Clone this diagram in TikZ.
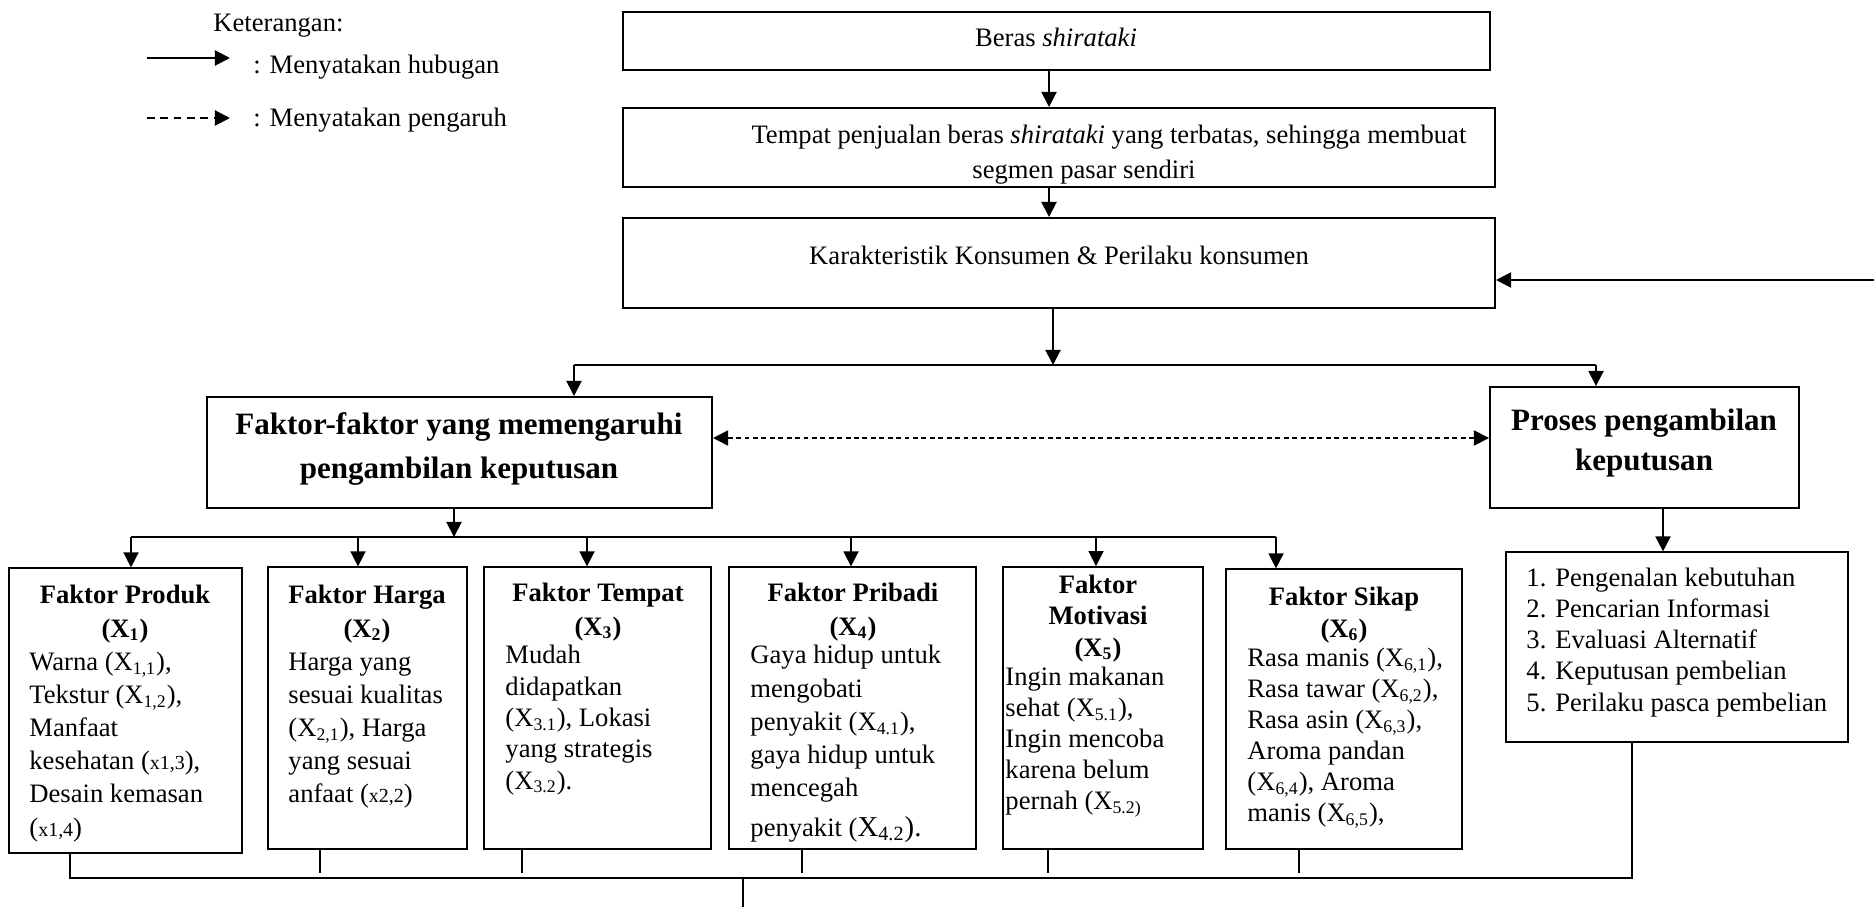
\documentclass[tikz,border=0pt]{standalone}
\usepackage{fontspec}
\setmainfont{Liberation Serif}
\usetikzlibrary{arrows.meta,fit}
\begin{document}
\begin{tikzpicture}[x=0.451pt,y=-0.451pt,
  thickbox/.style={draw, line width=0.9pt, inner sep=0pt},
  thinbox/.style={draw, line width=0.55pt, inner sep=0pt},
  arr/.style={-{Triangle[length=6.8pt,width=6.8pt]}, line width=0.9pt},
  arrthin/.style={-{Triangle[length=6.8pt,width=6.8pt]}, line width=0.7pt},
  ln/.style={line width=0.55pt},
  txt/.style={inner sep=0pt, font=\fontsize{12}{14.5}\selectfont, align=left},
  ttl/.style={inner sep=0pt, font=\bfseries\fontsize{12}{14.9}\selectfont, align=center},
  big/.style={inner sep=0pt, align=center},
]
\useasboundingbox (0,0) rectangle (1874,907);

% legend
\node[txt, anchor=base west] (ket) at (213,32) {Keterangan:};
\coordinate (l1a) at (147,58); \coordinate (l1b) at (230,58);
\draw[arr] (l1a) -- (l1b);
\node[txt, anchor=base west] (l1t) at (253,74) {: Menyatakan hubugan};
\coordinate (l2a) at (147,118); \coordinate (l2b) at (230,118);
\draw[arr, dash pattern=on 3.5pt off 2.5pt] (l2a) -- (l2b);
\node[txt, anchor=base west] (l2t) at (253,127) {: Menyatakan pengaruh};

% top chain
\node[thickbox, fit={(623,12) (1490,70)}] (b1) {};
\node[txt, anchor=base] (b1t) at (1056,47) {Beras \textit{shirataki}};
\node[thickbox, fit={(623,108) (1495,187)}] (b2) {};
\node[txt, align=center, anchor=base, font=\fontsize{12}{15.8}\selectfont] (b2t) at (1084,179)
  {\hspace*{22.5pt}Tempat penjualan beras \textit{shirataki} yang terbatas, sehingga membuat\\segmen pasar sendiri};
\node[thickbox, fit={(623,218) (1495,308)}] (b3) {};
\node[txt, anchor=base] (b3t) at (1059,264) {Karakteristik Konsumen \& Perilaku konsumen};

\coordinate (c1) at (1049,0);
\draw[arr] (c1 |- b1.south) -- (c1 |- b2.north);
\draw[arr] (c1 |- b2.south) -- (c1 |- b3.north);
\coordinate (fb) at (1874,280);
\draw[arr] (fb) -- (fb -| b3.east);

% decision level
\node[thickbox, fit={(207,397) (712,508)}] (ff) {};
\node[big, font=\bfseries\fontsize{14}{19.4}\selectfont, anchor=base] (fft) at (459,478)
  {Faktor-faktor yang memengaruhi\\pengambilan keputusan};
\node[thickbox, fit={(1490,387) (1799,508)}] (pp) {};
\node[big, font=\bfseries\fontsize{14}{18}\selectfont, anchor=base] (ppt) at (1644,470)
  {Proses pengambilan\\keputusan};

\coordinate (c2) at (1053,365);
\draw[arr] (c2 |- b3.south) -- (c2);
\coordinate (s1) at (574,365); \coordinate (s2) at (1596,365);
\draw[line width=0.7pt] (s1) -- (s2);
\draw[arr] (s1) -- (s1 |- ff.north);
\draw[arr] (s2) -- (s2 |- pp.north);
\coordinate (d) at (0,438);
\draw[{Triangle[length=6.8pt,width=6.8pt]}-{Triangle[length=6.8pt,width=6.8pt]}, line width=0.75pt, dash pattern=on 2.2pt off 1.6pt]
  (d -| ff.east) -- (d -| pp.west);

% factor boxes
\node[thinbox, fit={(9,568) (242,853)}] (bp) {};
\node[thinbox, fit={(268,567) (467,849)}] (bh) {};
\node[thinbox, fit={(484,567) (711,849)}] (bt) {};
\node[thinbox, fit={(729,567) (976,849)}] (bpr) {};
\node[draw, line width=0.8pt, inner sep=0pt, fit={(1003,567) (1203,849)}] (bm) {};
\node[thinbox, fit={(1226,569) (1462,849)}] (bs) {};
\node[thinbox, fit={(1506,552) (1848,742)}] (lst) {};

\coordinate (c3) at (454,537);
\draw[arr] (c3 |- ff.south) -- (c3);
\coordinate (h0) at (131,537); \coordinate (h9) at (1276,537);
\draw[line width=0.6pt] (h0) -- (h9);
\draw[arrthin] (h0) -- (h0 |- bp.north);
\coordinate (a2) at (358,537); \draw[arrthin] (a2) -- (a2 |- bh.north);
\coordinate (a3) at (587,537); \draw[arrthin] (a3) -- (a3 |- bt.north);
\coordinate (a4) at (851,537); \draw[arrthin] (a4) -- (a4 |- bpr.north);
\coordinate (a5) at (1096,537); \draw[arrthin] (a5) -- (a5 |- bm.north);
\draw[arrthin] (h9) -- (h9 |- bs.north);
\coordinate (c4) at (1663,0);
\draw[arr] (c4 |- pp.south) -- (c4 |- lst.north);

% texts of factor boxes (anchor base = last line baseline)
\node[ttl, anchor=base] (tp) at (125,637) {Faktor Produk\\(X\textsubscript{1})};
\node[txt, anchor=base west, font=\fontsize{12}{14.9}\selectfont] (xp) at (29,836)
  {Warna (X\textsubscript{1,1}),\\Tekstur (X\textsubscript{1,2}),\\Manfaat\\kesehatan ({\fontsize{9}{9}\selectfont x1,3}),\\Desain kemasan\\({\fontsize{9}{9}\selectfont x1,4})};

\node[ttl, anchor=base] (th) at (367,637) {Faktor Harga\\(X\textsubscript{2})};
\node[txt, anchor=base west, font=\fontsize{12}{14.8}\selectfont] (xh) at (288,802)
  {Harga yang\\sesuai kualitas\\(X\textsubscript{2,1}), Harga\\yang sesuai\\anfaat ({\fontsize{9}{9}\selectfont x2,2})};

\node[ttl, anchor=base] (tt) at (598,635) {Faktor Tempat\\(X\textsubscript{3})};
\node[txt, anchor=base west, font=\fontsize{12}{14.1}\selectfont] (xt) at (505,789)
  {Mudah\\didapatkan\\(X\textsubscript{3.1}), Lokasi\\yang strategis\\(X\textsubscript{3.2}).};

\node[ttl, anchor=base] (tpr) at (853,635) {Faktor Pribadi\\(X\textsubscript{4})};
\node[txt, anchor=base west, font=\fontsize{12}{15}\selectfont] (xpr) at (750,836)
  {Gaya hidup untuk\\mengobati\\penyakit (X\textsubscript{4.1}),\\gaya hidup untuk\\mencegah\\[2.6pt]penyakit ({\fontsize{13}{15}\selectfont X\textsubscript{4.2}).}};

\node[ttl, anchor=base, font=\bfseries\fontsize{12}{14}\selectfont] (tm) at (1098,656) {Faktor\\Motivasi\\(X\textsubscript{5})};
\node[txt, anchor=base west, font=\fontsize{12}{13.9}\selectfont] (xm) at (1005,809)
  {Ingin makanan\\sehat (X\textsubscript{5.1}),\\Ingin mencoba\\karena belum\\pernah (X\textsubscript{5.2)}};

\node[ttl, anchor=base, font=\bfseries\fontsize{12}{14}\selectfont] (ts) at (1344,637) {Faktor Sikap\\(X\textsubscript{6})};
\node[txt, anchor=base west, font=\fontsize{12}{13.9}\selectfont] (xs) at (1247,821)
  {Rasa manis (X\textsubscript{6,1}),\\Rasa tawar (X\textsubscript{6,2}),\\Rasa asin (X\textsubscript{6,3}),\\Aroma pandan\\(X\textsubscript{6,4}), Aroma\\manis (X\textsubscript{6,5}),};

\node[txt, anchor=base west, font=\fontsize{12}{14}\selectfont] (xl) at (1526,711)
  {1. Pengenalan kebutuhan\\2. Pencarian Informasi\\3. Evaluasi Alternatif\\4. Keputusan pembelian\\5. Perilaku pasca pembelian};

% bottom collector
\coordinate (h1) at (70,878); \coordinate (h2) at (1632,878);
\draw[ln] (h1 |- bp.south) -- (h1) -- (h2) -- (h2 |- lst.south);
\coordinate (t2) at (320,873); \draw[ln] (t2 |- bh.south) -- (t2);
\coordinate (t3) at (522,873); \draw[ln] (t3 |- bt.south) -- (t3);
\coordinate (t4) at (802,873); \draw[ln] (t4 |- bpr.south) -- (t4);
\coordinate (t5) at (1048,873); \draw[ln] (t5 |- bm.south) -- (t5);
\coordinate (t6) at (1299,873); \draw[ln] (t6 |- bs.south) -- (t6);
\coordinate (dr) at (743,878); \coordinate (dr2) at (743,907);
\draw[ln] (dr) -- (dr2);
\end{tikzpicture}
\end{document}
